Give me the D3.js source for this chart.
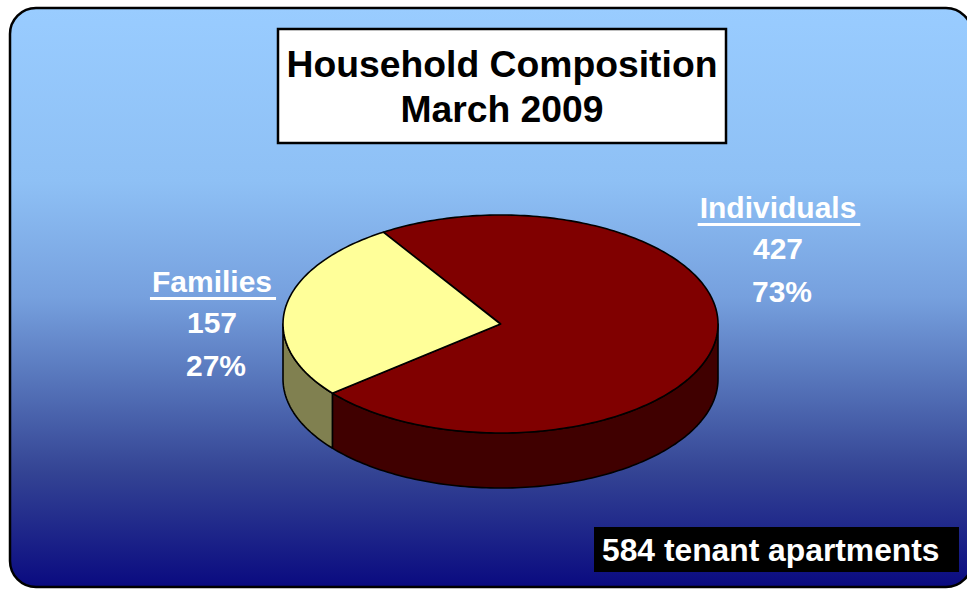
<!DOCTYPE html>
<html>
<head>
<meta charset="utf-8">
<script src="https://cdn.jsdelivr.net/npm/d3@7"></script>
<style>
  html, body { margin: 0; padding: 0; background: #fff; }
  text { font-family: Arial, "Liberation Sans", sans-serif; font-weight: bold; }
</style>
</head>
<body>
<script>
var categories = ["Individuals", "Families"];
var values = [427, 157];
var percents = ["73%", "27%"];
var titleLines = ["Household Composition", "March 2009"];
var footnote = "584 tenant apartments";

var w = 967, h = 590;
var topColors = ["#800000", "#FFFF99"];
var sideColors = ["#400000", "#808050"];

var svg = d3.select("body").append("svg")
  .attr("width", w).attr("height", h);

// background gradient
var grad = svg.append("defs").append("linearGradient")
  .attr("id", "bg").attr("x1", 0).attr("y1", 0).attr("x2", 0).attr("y2", 1);
[[0, "rgb(153,204,255)"], [0.3, "rgb(142,192,245)"], [0.5, "rgb(118,160,222)"],
 [0.65, "rgb(85,115,185)"], [0.8, "rgb(52,68,148)"], [1, "rgb(10,10,128)"]]
  .forEach(function(s){
    grad.append("stop").attr("offset", s[0]).attr("stop-color", s[1]);
  });

svg.append("rect")
  .attr("x", 10).attr("y", 8).attr("width", 962).attr("height", 579)
  .attr("rx", 26).attr("ry", 26)
  .attr("fill", "url(#bg)")
  .attr("stroke", "#000").attr("stroke-width", 2.5);

// pie geometry
var cx = 500.5, cy = 324, rx = 217.5, ry = 109, depth = 55;
var startDeg = -32.6;

var pie = d3.pie().sort(null)
  .startAngle(startDeg * Math.PI / 180)
  .endAngle(startDeg * Math.PI / 180 + 2 * Math.PI);
var arcs = pie(values);

function pt(a, dy) {
  return [cx + rx * Math.sin(a), cy - ry * Math.cos(a) + (dy || 0)];
}
function arcPts(a0, a1, dy) {
  var n = Math.max(2, Math.ceil(Math.abs(a1 - a0) / 0.02));
  return d3.range(n + 1).map(function(i){ return pt(a0 + (a1 - a0) * i / n, dy); });
}
var line = d3.line();

// sides (front half: angles between PI/2 and 3PI/2, mod 2PI)
var g = svg.append("g");
arcs.forEach(function(d, i){
  [0, 2 * Math.PI, -2 * Math.PI].forEach(function(off){
    var a0 = Math.max(d.startAngle + off, Math.PI / 2);
    var a1 = Math.min(d.endAngle + off, 3 * Math.PI / 2);
    if (a1 - a0 > 0.001) {
      var top = arcPts(a0, a1, 0);
      var bot = arcPts(a1, a0, depth);
      g.append("path")
        .attr("d", line(top.concat(bot)) + "Z")
        .attr("fill", sideColors[i])
        .attr("stroke", "#000").attr("stroke-width", 1.6)
        .attr("stroke-linejoin", "round");
    }
  });
});

// tops
arcs.forEach(function(d, i){
  var p = [[cx, cy]].concat(arcPts(d.startAngle, d.endAngle, 0));
  g.append("path")
    .attr("d", line(p) + "Z")
    .attr("fill", topColors[i])
    .attr("stroke", "#000").attr("stroke-width", 1.6)
    .attr("stroke-linejoin", "round");
});

// title box
svg.append("rect")
  .attr("x", 278).attr("y", 29).attr("width", 448).attr("height", 114)
  .attr("fill", "#fff").attr("stroke", "#000").attr("stroke-width", 2.5);
svg.selectAll(".title").data(titleLines).enter().append("text")
  .attr("class", "title")
  .attr("x", 502).attr("y", function(d, i){ return 77 + i * 45; })
  .attr("text-anchor", "middle")
  .attr("font-size", 37.3).attr("fill", "#000")
  .text(function(d){ return d; });

// labels
var labelPos = [[778, 218], [212, 292]];
arcs.forEach(function(d, i){
  var lg = svg.append("g").attr("transform", "translate(" + labelPos[i][0] + "," + labelPos[i][1] + ")");
  var t = lg.append("text").attr("text-anchor", "middle")
    .attr("font-size", 30).attr("fill", "#fff")
    .text(categories[i]);
  var bw = t.node().getComputedTextLength();
  lg.append("rect").attr("x", -bw / 2 - 2).attr("y", 5).attr("width", bw + 6).attr("height", 3)
    .attr("fill", "#fff");
  lg.append("text").attr("text-anchor", "middle").attr("y", 41)
    .attr("font-size", 30).attr("fill", "#fff").text(d.data);
  lg.append("text").attr("text-anchor", "middle").attr("x", 4).attr("y", 84)
    .attr("font-size", 30).attr("fill", "#fff").text(percents[i]);
});

// footnote
svg.append("rect")
  .attr("x", 594).attr("y", 527).attr("width", 365).attr("height", 45)
  .attr("fill", "#000");
svg.append("text")
  .attr("x", 602).attr("y", 561)
  .attr("font-size", 31.8).attr("fill", "#fff")
  .text(footnote);
</script>
</body>
</html>
